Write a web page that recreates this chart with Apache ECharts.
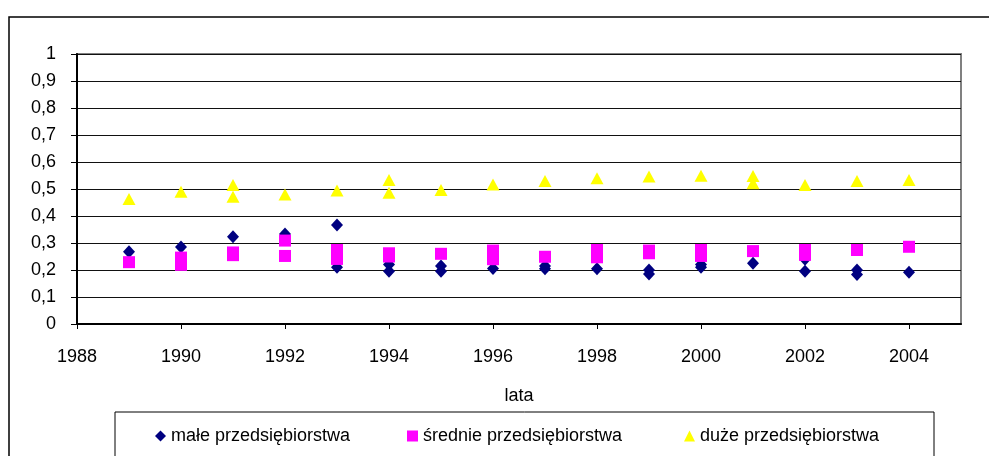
<!DOCTYPE html>
<html>
<head>
<meta charset="utf-8">
<script src="https://cdn.jsdelivr.net/npm/echarts@6/dist/echarts.min.js"></script>
<style>
html,body{margin:0;padding:0;background:#fff;}
#chart{width:989px;height:456px;}
</style>
</head>
<body>
<div id="chart"></div>
<script>
var years = [1989,1990,1991,1992,1993,1994,1995,1996,1997,1998,1999,2000,2001,2002,2003,2004];
var seriesNames = ['małe przedsiębiorstwa','średnie przedsiębiorstwa','duże przedsiębiorstwa'];
var yTickLabels = ['0','0,1','0,2','0,3','0,4','0,5','0,6','0,7','0,8','0,9','1'];
// values per year (several observations per year where points overlap)
var maleValues = [[0.268],[0.285],[0.323],[0.333],[0.367,0.21],[0.22,0.195],[0.215,0.195],[0.206],[0.215,0.205],[0.205],[0.2,0.185],[0.22,0.21],[0.225],[0.24,0.195],[0.2,0.183],[0.192]];
var srednieValues = [[0.229],[0.246,0.219],[0.265,0.255],[0.309,0.252],[0.274,0.241],[0.262,0.25],[0.26],[0.272,0.24],[0.249],[0.274,0.247],[0.272,0.262],[0.274,0.252],[0.27],[0.274,0.256],[0.274],[0.286]];
var duzeValues = [[0.463],[0.49],[0.515,0.471],[0.48],[0.494],[0.533,0.486],[0.496],[0.517],[0.53],[0.54],[0.546],[0.549],[0.548,0.521],[0.515],[0.53],[0.533]];

function build(vals){
  var out = [];
  for (var i=0;i<years.length;i++){
    for (var j=0;j<vals[i].length;j++){ out.push([years[i], vals[i][j]]); }
  }
  return out;
}

var FONT = 'Liberation Sans, Arial, sans-serif';
var legendText = {fontSize:18,color:'#000',fontFamily:FONT};
var chart = echarts.init(document.getElementById('chart'), null, {renderer:'canvas'});
chart.setOption({
  animation:false,
  backgroundColor:'#fff',
  textStyle:{fontFamily:FONT},
  grid:{left:77,top:54,right:28,bottom:132,show:true,borderColor:'#808080',borderWidth:2,backgroundColor:'#fff'},
  xAxis:{
    type:'value',min:1988,max:2005,interval:2,
    name:'lata',nameLocation:'middle',nameGap:63,
    nameTextStyle:{fontSize:18,color:'#000',fontFamily:FONT},
    axisLine:{show:true,onZero:false,lineStyle:{color:'#000',width:2}},
    axisTick:{show:true,length:5,lineStyle:{color:'#000',width:1}},
    axisLabel:{margin:24,fontSize:18,color:'#000',fontFamily:FONT,showMaxLabel:false,
      formatter:function(v){return v===2005?'':String(v);}},
    splitLine:{show:false}
  },
  yAxis:{
    type:'value',min:0,max:1,interval:0.1,
    axisLine:{show:true,lineStyle:{color:'#000',width:2}},
    axisTick:{show:true,length:6,lineStyle:{color:'#000',width:1}},
    axisLabel:{margin:21,fontSize:18,color:'#000',fontFamily:FONT,
      formatter:function(v){return yTickLabels[Math.round(v*10)];}},
    splitLine:{show:true,lineStyle:{color:'#111',width:1}}
  },
  legend:[
    {data:[seriesNames[0]],left:150,top:422,itemWidth:11,itemHeight:11,textStyle:legendText},
    {data:[seriesNames[1]],left:402,top:422,itemWidth:11,itemHeight:11,textStyle:legendText},
    {data:[seriesNames[2]],left:679,top:422,itemWidth:11,itemHeight:11,textStyle:legendText}
  ],
  graphic:[
    {type:'rect',z:-10,shape:{x:9,y:17,width:1000,height:500},style:{fill:null,stroke:'#000',lineWidth:1.5}},
    {type:'rect',z:-5,shape:{x:115,y:412,width:819,height:60},style:{fill:null,stroke:'#000',lineWidth:1}}
  ],
  series:[
    {name:seriesNames[0],type:'scatter',symbol:'diamond',symbolSize:[12,13],itemStyle:{color:'#000080',opacity:1},data:build(maleValues)},
    {name:seriesNames[1],type:'scatter',symbol:'rect',symbolSize:[12,12],itemStyle:{color:'#FF00FF',opacity:1},data:build(srednieValues)},
    {name:seriesNames[2],type:'scatter',symbol:'triangle',symbolSize:[13,12],itemStyle:{color:'#FFFF00',opacity:1},data:build(duzeValues)}
  ]
});
</script>
</body>
</html>
